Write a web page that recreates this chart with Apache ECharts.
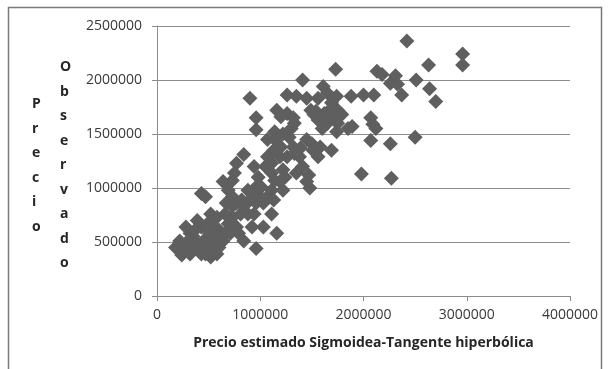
<!DOCTYPE html>
<html>
<head>
<meta charset="utf-8">
<script src="https://cdn.jsdelivr.net/npm/echarts@6/dist/echarts.min.js"></script>
<style>
  html, body { margin: 0; padding: 0; background: #fff; }
  #chart { width: 609px; height: 369px; }
</style>
</head>
<body>
<div id="chart"></div>
<script>
const estimado = [
  2420000, 2960000, 2960000, 2630000, 2510000, 2640000, 2700000, 2370000, 2310000, 2260000,
  2130000, 2180000, 2330000, 2500000, 2260000, 2270000, 1980000, 2070000, 2070000, 2090000,
  2120000, 2100000, 2000000, 1880000, 1890000, 1850000,
  1730000, 1740000, 1610000, 1650000, 1560000, 1690000, 1750000, 1790000, 1710000, 1620000,
  1540000, 1560000, 1650000, 1600000, 1740000, 1690000, 1520000, 1490000, 1410000, 1450000,
  1350000, 1260000, 1260000, 1330000, 1160000, 1200000, 1300000, 1140000, 1280000, 1450000,
  1500000, 1580000, 1560000, 1510000, 1390000, 1380000, 1410000, 1470000, 1480000, 1450000,
  1350000, 1260000, 1220000, 1240000, 1190000, 1130000, 1070000, 1070000, 1110000, 1050000,
  1110000, 1140000, 1220000, 1110000, 1070000, 1130000, 1030000, 1110000, 1160000, 1030000,
  960000, 940000, 980000, 960000, 920000, 880000, 900000, 840000, 880000, 940000,
  920000, 960000, 840000, 960000, 960000, 900000, 840000, 770000, 750000, 640000,
  730000, 690000, 730000, 770000, 670000, 810000, 730000, 660000, 770000, 690000,
  790000, 660000, 600000, 640000, 540000, 520000, 470000, 430000, 510000, 560000,
  510000, 580000, 520000, 430000, 350000, 320000, 280000, 390000, 430000, 450000,
  390000, 320000, 240000, 220000, 180000, 280000, 350000, 240000, 370000, 490000,
  580000, 510000,
  340000, 410000, 470000, 300000, 540000, 600000, 620000, 710000, 730000, 820000,
  1000000, 1010000, 1190000, 1200000, 1320000, 1330000, 1140000, 1220000, 1320000, 1670000,
  1640000, 1750000
];
const observado = [
  2360000, 2240000, 2140000, 2140000, 2000000, 1920000, 1800000, 1860000, 2040000, 1970000,
  2080000, 2050000, 1960000, 1470000, 1410000, 1090000, 1130000, 1440000, 1650000, 1590000,
  1550000, 1860000, 1860000, 1850000, 1570000, 1550000,
  2100000, 1850000, 1940000, 1880000, 1830000, 1790000, 1720000, 1680000, 1660000, 1690000,
  1710000, 1630000, 1600000, 1550000, 1520000, 1350000, 1680000, 1720000, 2000000, 1830000,
  1850000, 1860000, 1690000, 1600000, 1720000, 1660000, 1550000, 1520000, 1470000, 1450000,
  1410000, 1380000, 1290000, 1350000, 1370000, 1290000, 1200000, 1120000, 1000000, 1060000,
  1140000, 1290000, 1170000, 1100000, 1060000, 1350000, 1450000, 1290000, 1230000, 1200000,
  1140000, 1070000, 980000, 980000, 920000, 890000, 860000, 760000, 580000, 640000,
  860000, 1200000, 1100000, 1010000, 950000, 980000, 890000, 830000, 760000, 760000,
  640000, 440000, 510000, 1650000, 1540000, 1830000, 1310000, 1230000, 1140000, 1060000,
  1070000, 980000, 920000, 860000, 860000, 760000, 730000, 760000, 640000, 670000,
  580000, 580000, 610000, 510000, 640000, 760000, 920000, 950000, 580000, 510000,
  450000, 390000, 360000, 390000, 450000, 580000, 640000, 700000, 640000, 510000,
  480000, 390000, 440000, 510000, 450000, 450000, 550000, 380000, 610000, 670000,
  730000, 510000,
  500000, 440000, 390000, 510000, 410000, 450000, 550000, 580000, 830000, 890000,
  920000, 1010000, 1290000, 1380000, 1380000, 1320000, 1450000, 1500000, 1650000, 1720000,
  1640000, 1600000
];
const xTicks = { min: 0, max: 4000000, step: 1000000 };
const yTicks = { min: 0, max: 2500000, step: 500000 };

const points = estimado.map((x, i) => [x, observado[i]]);

const chart = echarts.init(document.getElementById("chart"), null, { renderer: "canvas" });

const gridGray = "#8c8c8c";
const labelColor = "#3a3a3a";
const plain = (v) => String(v);

chart.setOption({
  animation: false,
  backgroundColor: "#ffffff",
  grid: { left: 157, right: 39, top: 26, bottom: 73, containLabel: false },
  xAxis: {
    type: "value",
    min: xTicks.min,
    max: xTicks.max,
    interval: xTicks.step,
    name: "Precio estimado Sigmoidea-Tangente hiperbólica",
    nameLocation: "middle",
    nameGap: 40,
    nameTextStyle: {
      fontFamily: "Open Sans",
      fontWeight: "bold",
      fontSize: 14,
      color: "#262626",
    },
    axisLine: { show: true, lineStyle: { color: gridGray, width: 1 } },
    axisTick: { show: true, length: 5, lineStyle: { color: gridGray } },
    splitLine: { show: false },
    axisLabel: {
      color: labelColor,
      fontSize: 14,
      fontFamily: "Open Sans",
      margin: 12,
      formatter: plain,
    },
  },
  yAxis: {
    type: "value",
    min: yTicks.min,
    max: yTicks.max,
    interval: yTicks.step,
    axisLine: { show: true, lineStyle: { color: gridGray, width: 1 } },
    axisTick: { show: true, length: 5, lineStyle: { color: gridGray } },
    splitLine: { show: true, lineStyle: { color: gridGray, width: 1 } },
    axisLabel: {
      color: labelColor,
      fontSize: 14,
      fontFamily: "Open Sans",
      margin: 15,
      formatter: plain,
    },
  },
  graphic: [
    // outer frame of the figure
    {
      type: "rect",
      silent: true,
      shape: { x: 8.5, y: 7.5, width: 593, height: 420 },
      style: { fill: null, stroke: "#7a7a7a", lineWidth: 1.5 },
    },
    // stacked y title, two columns
    {
      type: "text",
      left: 32,
      top: 92,
      style: {
        text: "P\nr\ne\nc\ni\no",
        fontFamily: "Open Sans",
        fontWeight: "bold",
        fontSize: 14,
        lineHeight: 24.5,
        fill: "#262626",
        align: "center",
      },
    },
    {
      type: "text",
      left: 60,
      top: 55,
      style: {
        text: "O\nb\ns\ne\nr\nv\na\nd\no",
        fontFamily: "Open Sans",
        fontWeight: "bold",
        fontSize: 14,
        lineHeight: 24.5,
        fill: "#262626",
        align: "center",
      },
    },
  ],
  series: [
    {
      type: "scatter",
      symbol: "diamond",
      symbolSize: 15,
      itemStyle: { color: "#5f5f5f", opacity: 1 },
      data: points,
    },
  ],
});
</script>
</body>
</html>
